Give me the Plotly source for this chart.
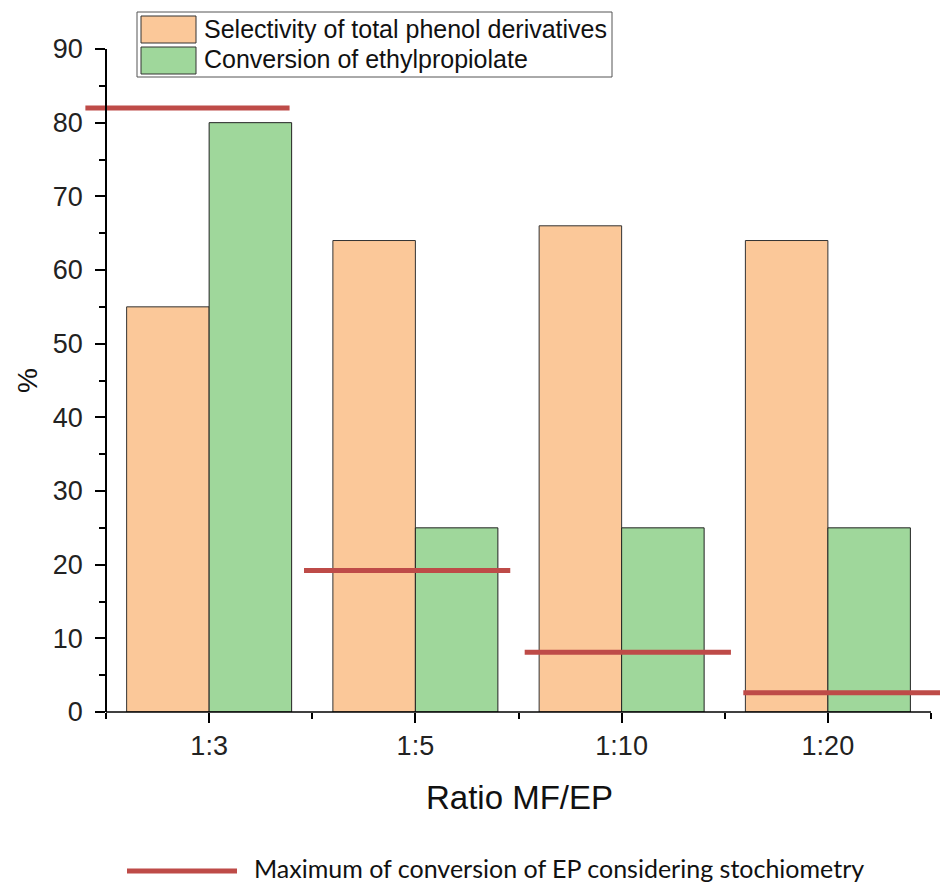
import plotly.graph_objects as go

# Data
categories = ["1:3", "1:5", "1:10", "1:20"]
selectivity = [55, 64, 66, 64]          # Selectivity of total phenol derivatives (%)
conversion = [80, 25, 25, 25]           # Conversion of ethylpropiolate (%)
max_conversion = [82, 19.2, 8.1, 2.6]   # Max conversion of EP from stoichiometry (%)

# Horizontal span of each stoichiometric-limit segment, relative to its category
seg_start = [-0.60, -0.54, -0.47, -0.41]
seg_end = [0.39, 0.46, 0.53, 0.62]

ORANGE = "#FBC899"
GREEN = "#9FD79B"
RED = "#BE4B48"
FONT = "Liberation Sans, Arial, sans-serif"

W, H = 940, 885
ML, MR, MT, MB = 84, 0, 49, 173
PW, PH = W - ML - MR, H - MT - MB
X_RANGE = [-0.6067, 3.5436]


def px_x(x):
    return (x - ML) / PW


def px_y(y):
    return (H - MB - y) / PH


idx = list(range(len(categories)))

fig = go.Figure()
fig.add_trace(go.Bar(
    x=idx, y=selectivity, name="Selectivity of total phenol derivatives",
    marker=dict(color=ORANGE, line=dict(color="#333333", width=1)),
    showlegend=False,
))
fig.add_trace(go.Bar(
    x=idx, y=conversion, name="Conversion of ethylpropiolate",
    marker=dict(color=GREEN, line=dict(color="#222222", width=1)),
    showlegend=False,
))
for i, v in enumerate(max_conversion):
    fig.add_trace(go.Scatter(
        x=[i + seg_start[i], i + seg_end[i]], y=[v, v], mode="lines",
        line=dict(color=RED, width=5), showlegend=False, hoverinfo="skip",
    ))

y_axis_pos = (-0.5 - X_RANGE[0]) / (X_RANGE[1] - X_RANGE[0])

fig.update_layout(
    width=W, height=H,
    margin=dict(l=ML, r=MR, t=MT, b=MB),
    paper_bgcolor="white", plot_bgcolor="white",
    barmode="group", bargap=0.2, bargroupgap=0,
    font=dict(family=FONT, color="#222222"),
    xaxis=dict(
        range=X_RANGE, showgrid=False, zeroline=False, showline=False,
        tickmode="array", tickvals=idx, ticktext=categories,
        ticks="outside", ticklen=10, tickwidth=1.5, tickcolor="black",
        tickfont=dict(size=27, family=FONT, color="#222222"),
        minor=dict(tickmode="array", tickvals=[-0.5, 0.5, 1.5, 2.5, 3.5],
                   ticks="outside", ticklen=6, tickwidth=1.5, tickcolor="black"),
    ),
    yaxis=dict(
        range=[0, 90], anchor="free", position=y_axis_pos,
        showgrid=False, zeroline=False,
        showline=True, linecolor="black", linewidth=1.5,
        tickmode="array", tickvals=list(range(0, 91, 10)),
        ticks="outside", ticklen=10, tickwidth=1.5, tickcolor="black",
        tickfont=dict(size=27, family=FONT, color="#222222"),
        ticklabelstandoff=7,
        minor=dict(tickmode="array", tickvals=list(range(5, 90, 10)),
                   ticks="outside", ticklen=6, tickwidth=1.5, tickcolor="black"),
    ),
)

shapes = [
    # x axis baseline between the outer category boundaries
    dict(type="line", xref="x", yref="y domain", x0=-0.5, x1=3.5, y0=0, y1=0,
         line=dict(color="black", width=1.5), layer="above"),
    # top legend frame and swatches
    dict(type="rect", xref="paper", yref="paper",
         x0=px_x(137), x1=px_x(612), y0=px_y(12), y1=px_y(77),
         line=dict(color="#555555", width=1), fillcolor="white"),
    dict(type="rect", xref="paper", yref="paper",
         x0=px_x(141), x1=px_x(196), y0=px_y(16), y1=px_y(43),
         line=dict(color="#333333", width=1), fillcolor=ORANGE),
    dict(type="rect", xref="paper", yref="paper",
         x0=px_x(141), x1=px_x(196), y0=px_y(47), y1=px_y(74),
         line=dict(color="#333333", width=1), fillcolor=GREEN),
    # bottom legend line sample
    dict(type="line", xref="paper", yref="paper",
         x0=px_x(127), x1=px_x(237), y0=px_y(871), y1=px_y(871),
         line=dict(color=RED, width=5)),
]

annotations = [
    dict(text="Selectivity of total phenol derivatives", xref="paper", yref="paper",
         x=px_x(202), y=px_y(29), xanchor="left", yanchor="middle", showarrow=False,
         font=dict(size=25, family=FONT, color="#111111")),
    dict(text="Conversion of ethylpropiolate", xref="paper", yref="paper",
         x=px_x(202), y=px_y(59), xanchor="left", yanchor="middle", showarrow=False,
         font=dict(size=25, family=FONT, color="#111111")),
    dict(text="%", xref="paper", yref="paper", x=px_x(27), y=px_y(381),
         xanchor="center", yanchor="middle", textangle=-90, showarrow=False,
         font=dict(size=28, family=FONT, color="#111111")),
    dict(text="Ratio MF/EP", xref="paper", yref="paper", x=px_x(519), y=px_y(797),
         xanchor="center", yanchor="middle", showarrow=False,
         font=dict(size=33, family=FONT, color="#111111")),
    dict(text="Maximum of conversion of EP considering stochiometry",
         xref="paper", yref="paper", x=px_x(252), y=px_y(868),
         xanchor="left", yanchor="middle", showarrow=False,
         font=dict(size=25, family="Lato, Noto Sans, sans-serif", color="#111111")),
]

fig.update_layout(shapes=shapes, annotations=annotations)

fig.write_html("out.html")
